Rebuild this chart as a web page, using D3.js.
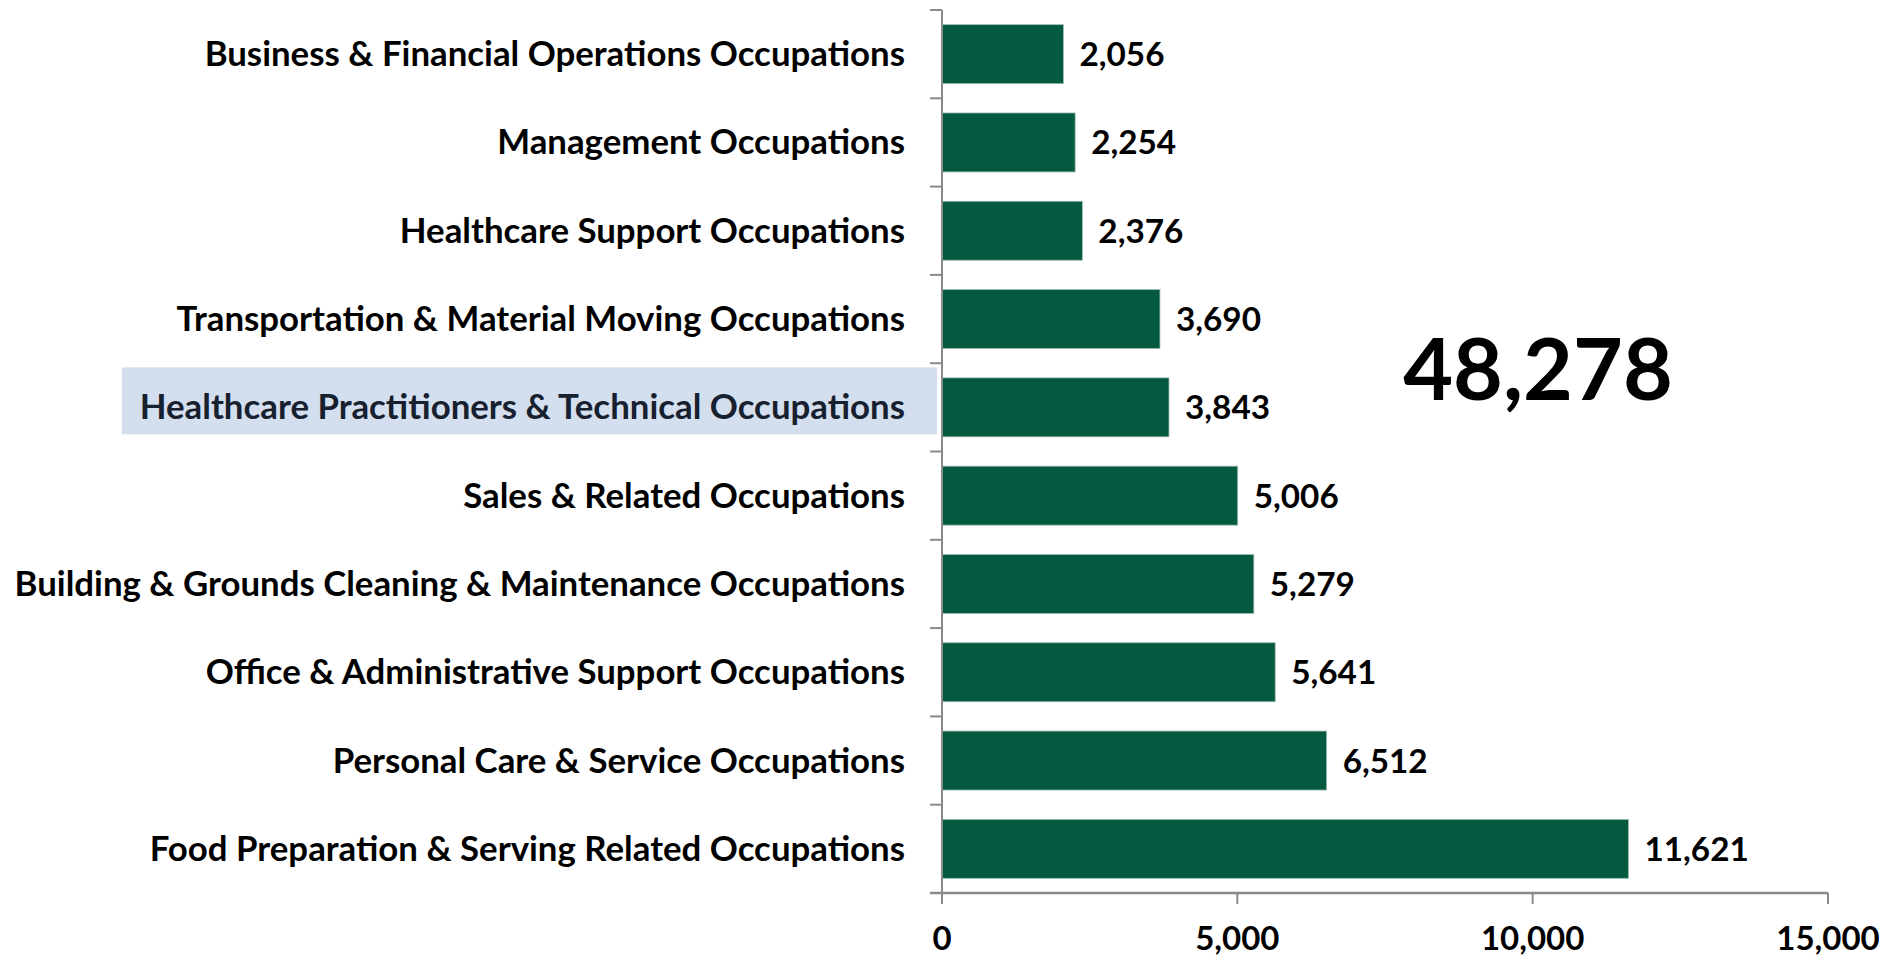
<!DOCTYPE html>
<html>
<head>
<meta charset="utf-8">
<script src="https://cdnjs.cloudflare.com/ajax/libs/d3/7.8.5/d3.min.js"></script>
<style>
  html, body { margin: 0; padding: 0; background: #ffffff; }
  svg { display: block; }
  text { font-family: Lato, "Open Sans", sans-serif; font-weight: 700; }
</style>
</head>
<body>
<svg id="chart" width="1893" height="957"></svg>
<script>
const categories = [
  "Business & Financial Operations Occupations",
  "Management Occupations",
  "Healthcare Support Occupations",
  "Transportation & Material Moving Occupations",
  "Healthcare Practitioners & Technical Occupations",
  "Sales & Related Occupations",
  "Building & Grounds Cleaning & Maintenance Occupations",
  "Office & Administrative Support Occupations",
  "Personal Care & Service Occupations",
  "Food Preparation & Serving Related Occupations"
];
const values = [2056, 2254, 2376, 3690, 3843, 5006, 5279, 5641, 6512, 11621];
const xTickValues = [0, 5000, 10000, 15000];
const highlighted = "Healthcare Practitioners & Technical Occupations";

const svg = d3.select("#chart");
const fmt = d3.format(",");

const x = d3.scaleLinear().domain([0, 15000]).range([942, 1828]);
const y = d3.scaleBand().domain(categories).range([10, 893])
  .paddingInner(0.332).paddingOuter(0.166);
const step = y.step();
const axisColor = "#8a8a8a";
const barColor = "#045a41";

// highlight box behind label
const hc = y(highlighted) + y.bandwidth() / 2;
svg.append("rect")
  .attr("x", 122).attr("y", hc - 40)
  .attr("width", 937 - 122).attr("height", 67)
  .attr("fill", "#d3dfee");

// bars
svg.selectAll("rect.bar").data(categories).join("rect")
  .attr("class", "bar")
  .attr("x", x(0))
  .attr("y", d => y(d))
  .attr("width", (d, i) => x(values[i]) - x(0))
  .attr("height", y.bandwidth())
  .attr("fill", barColor)
  .attr("stroke", "#9dbcb1")
  .attr("stroke-width", 0.8);

// value labels
svg.selectAll("text.val").data(categories).join("text")
  .attr("class", "val")
  .attr("x", (d, i) => x(values[i]) + 16)
  .attr("y", d => y(d) + y.bandwidth() / 2 + 12)
  .attr("font-size", 33.3)
  .attr("fill", "#000")
  .text((d, i) => fmt(values[i]));

// category labels
svg.selectAll("text.cat").data(categories).join("text")
  .attr("class", "cat")
  .attr("x", 905)
  .attr("y", d => y(d) + y.bandwidth() / 2 + 12)
  .attr("text-anchor", "end")
  .attr("font-size", 34.8)
  .attr("fill", d => d === highlighted ? "#17202f" : "#000")
  .text(d => d);

// vertical axis with ticks at band boundaries
const yRange = y.range();
svg.append("line")
  .attr("x1", x(0)).attr("x2", x(0))
  .attr("y1", yRange[0]).attr("y2", yRange[1])
  .attr("stroke", axisColor).attr("stroke-width", 2);
const boundaries = d3.range(categories.length + 1).map(i => yRange[0] + i * step);
svg.selectAll("line.ytick").data(boundaries).join("line")
  .attr("class", "ytick")
  .attr("x1", x(0) - 12).attr("x2", x(0))
  .attr("y1", d => d).attr("y2", d => d)
  .attr("stroke", axisColor).attr("stroke-width", 2);

// horizontal axis
svg.append("line")
  .attr("x1", x(0) - 12).attr("x2", x(15000))
  .attr("y1", yRange[1]).attr("y2", yRange[1])
  .attr("stroke", axisColor).attr("stroke-width", 2.5);
svg.selectAll("line.xtick").data(xTickValues).join("line")
  .attr("class", "xtick")
  .attr("x1", d => x(d)).attr("x2", d => x(d))
  .attr("y1", yRange[1]).attr("y2", yRange[1] + 11)
  .attr("stroke", axisColor).attr("stroke-width", 2);
svg.selectAll("text.xlab").data(xTickValues).join("text")
  .attr("class", "xlab")
  .attr("x", d => x(d))
  .attr("y", 950)
  .attr("text-anchor", "middle")
  .attr("font-size", 33)
  .attr("fill", "#000")
  .text(d => fmt(d));

// total
svg.append("text")
  .attr("x", 1538).attr("y", 400)
  .attr("text-anchor", "middle")
  .attr("font-size", 86)
  .attr("fill", "#000")
  .text(fmt(d3.sum(values)));
</script>
</body>
</html>
